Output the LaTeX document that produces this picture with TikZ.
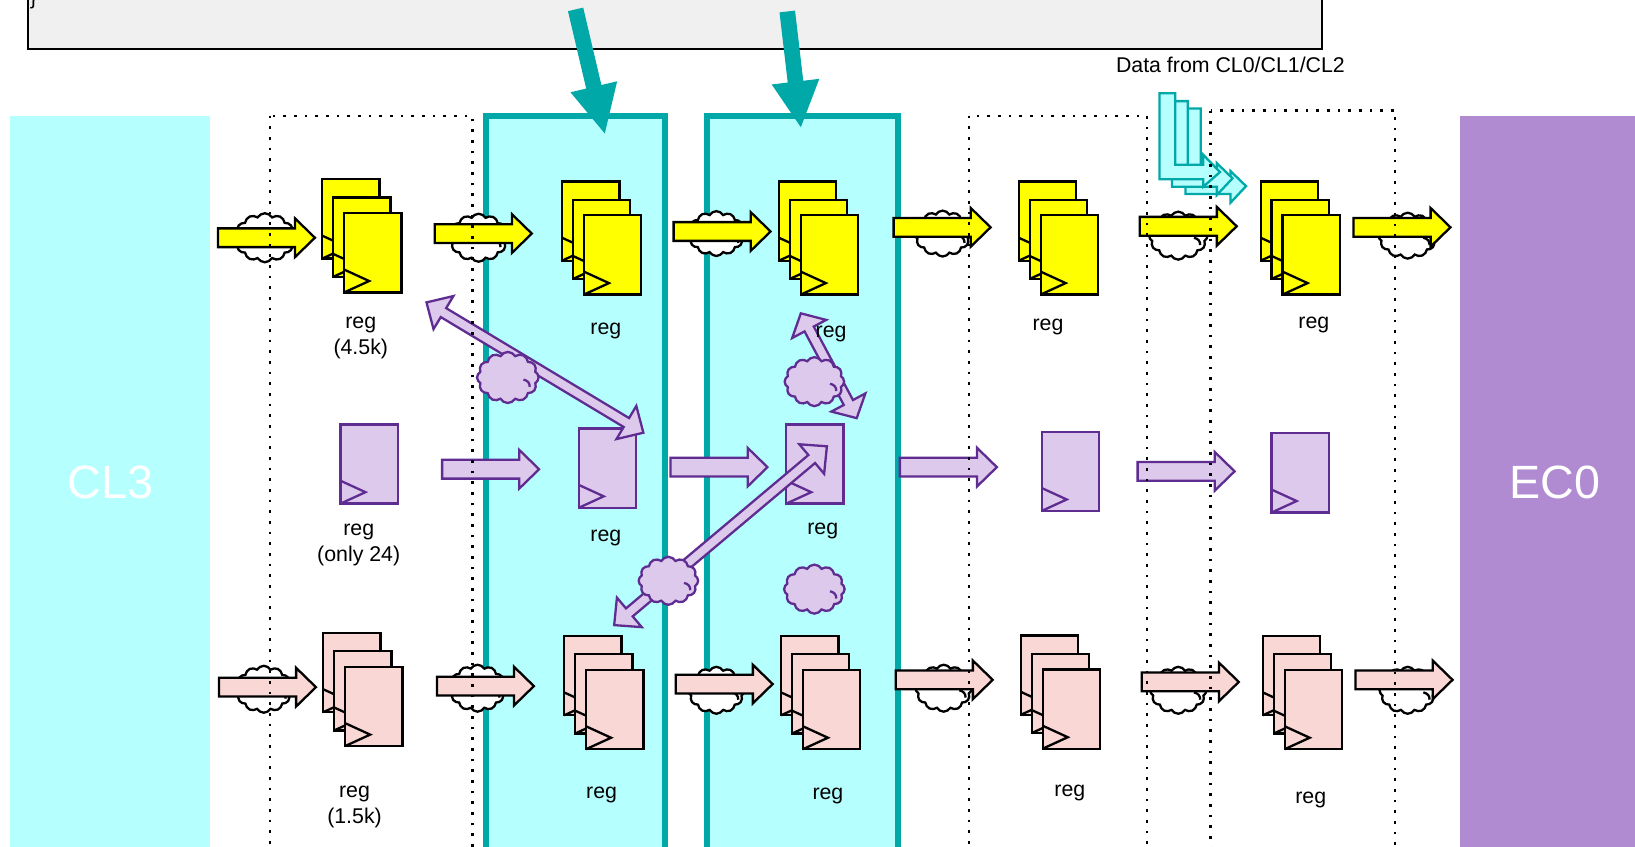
\documentclass[tikz,border=0pt]{standalone}
\usepackage{fontspec}
\setmainfont{Liberation Sans}
\usetikzlibrary{calc,shapes.symbols}
\definecolor{cyanfill}{HTML}{B5FFFF}
\definecolor{tealline}{HTML}{00A8A8}
\definecolor{purplefill}{HTML}{B08BD2}
\definecolor{lav}{HTML}{DDC9EC}
\definecolor{lavline}{HTML}{5F2D91}
\definecolor{pinkfill}{HTML}{F8D7D5}
\definecolor{yel}{RGB}{255,255,0}
\def\u{0.782pt}
\tikzset{
  yreg/.style={draw=black,fill=yel,line width=2.2*\u,line join=miter},
  preg/.style={draw=black,fill=pinkfill,line width=2.2*\u,line join=miter},
  lreg/.style={draw=lavline,fill=lav,line width=2.2*\u,line join=miter},
  tarrow/.style={draw=tealline,fill=cyanfill,line width=2.2*\u,line join=miter},
  bigarrow/.style={draw=none,fill=tealline},
  regbox/.style={shape=rectangle,outer sep=0pt,inner sep=0pt,minimum width=55*\u,minimum height=76*\u,anchor=north west},
  cloudy/.style={shape=cloud,cloud puffs=12,cloud puff arc=120,aspect=1.25,inner sep=0pt,outer sep=0pt},
  wcloud/.style={draw=black,fill=white,line width=2.2*\u},
  lcloud/.style={draw=lavline,fill=lav,line width=2.2*\u},
  dotbox/.style={draw=black,line width=2.2*\u,dash pattern=on 2pt off 6pt},
  stage/.style={draw=tealline,fill=cyanfill,line width=6*\u},
  lbl/.style={align=center,text=black,font=\fontsize{16}{19.5}\selectfont,inner sep=0pt},
  big/.style={text=white,font=\fontsize{35}{40}\selectfont,inner sep=0pt}
}
\newcommand{\onereg}[4]{%
  \node[regbox,#4] (#1) at (#2,#3) {};
  \draw[#4,fill=none] ($(#1.south west)+(0,-22)$) -- ($(#1.south west)+(24,-11)$) -- (#1.south west);
}
\newcommand{\regstack}[4]{%
  \onereg{#1a}{#2}{#3}{#4}
  \onereg{#1b}{#2+10.5}{#3+17.5}{#4}
  \onereg{#1c}{#2+21}{#3+32.5}{#4}
}
\newcommand{\cld}[6]{%
  \node[cloudy,#6,minimum width=#4*\u,minimum height=#5*\u] (#1) at (#2,#3) {};
  \draw[#6,fill=none] ($(#1)+(15,2)$) .. controls ($(#1)+(19,3)$) and ($(#1)+(21,5)$) .. ($(#1)+(21,9)$);
}
\newcommand{\blockarrow}[8]{%
  \coordinate (A) at (#1,#2);
  \coordinate (B) at (#3,#4);
  \coordinate (H) at ($(B)!#7*\u!(A)$);
  \path[#8] ($(A)!#5*\u!90:(B)$) -- ($(H)!#5*\u!90:(B)$) -- ($(H)!#6*\u!90:(B)$) -- (B)
    -- ($(H)!#6*\u!-90:(B)$) -- ($(H)!#5*\u!-90:(B)$) -- ($(A)!#5*\u!-90:(B)$) -- cycle;
}
\newcommand{\doublearrow}[8]{%
  \coordinate (A) at (#1,#2);
  \coordinate (B) at (#3,#4);
  \coordinate (H) at ($(B)!#7*\u!(A)$);
  \coordinate (G) at ($(A)!#7*\u!(B)$);
  \path[#8] (A) -- ($(G)!#6*\u!90:(B)$) -- ($(G)!#5*\u!90:(B)$) -- ($(H)!#5*\u!90:(B)$) -- ($(H)!#6*\u!90:(B)$) -- (B)
    -- ($(H)!#6*\u!-90:(B)$) -- ($(H)!#5*\u!-90:(B)$) -- ($(G)!#5*\u!-90:(B)$) -- ($(G)!#6*\u!-90:(B)$) -- cycle;
}
\begin{document}
\begin{tikzpicture}[x=0.782pt,y=-0.782pt]
\useasboundingbox (0,0) rectangle (1568,812);
\clip (0,0) rectangle (1568,812);
\fill[white] (0,0) rectangle (1568,812);
% top box
\draw[draw=black,fill=black!6,line width=2.2*\u] (27,-10) rectangle (1268,47);
\node[lbl,anchor=base] (brace) at (32,4) {\}};
% side bands
\fill[cyanfill] (10,111) rectangle (201,830);
\fill[purplefill] (1400,111) rectangle (1568,830);
\node[big] (cl3) at (106,463) {CL3};
\node[big] (ec0) at (1491,463) {EC0};
% stages
\draw[stage] (466,111) rectangle (638,830);
\draw[stage] (678,111) rectangle (861,830);
% registers
\regstack{y1}{309}{172}{yreg}
\regstack{y2}{539}{174}{yreg}
\regstack{y3}{747}{174}{yreg}
\regstack{y4}{977}{174}{yreg}
\regstack{y5}{1209}{174}{yreg}
\regstack{p1}{310}{607}{preg}
\regstack{p2}{541}{610}{preg}
\regstack{p3}{749}{610}{preg}
\regstack{p4}{979}{609.5}{preg}
\regstack{p5}{1211}{610}{preg}
\onereg{l1}{326.5}{407}{lreg}
\onereg{l2}{555}{411}{lreg}
\onereg{l3}{754}{407}{lreg}
\onereg{l4}{999}{414}{lreg}
\onereg{l5}{1219.5}{415.5}{lreg}
% clouds below data arrows
\cld{cy1}{254}{228}{58}{47}{wcloud}
\cld{cy2}{459}{228}{56}{46}{wcloud}
\cld{cy3}{687}{224}{54}{43}{wcloud}
\cld{cy4}{904}{224}{54}{44}{wcloud}
\cld{cy5}{1130}{226}{56}{46}{wcloud}
\cld{cy6}{1350}{226}{56}{44}{wcloud}
\cld{cp1}{253}{661}{54}{45}{wcloud}
\cld{cp2}{458}{660}{54}{45}{wcloud}
\cld{cp3}{687}{662}{54}{45}{wcloud}
\cld{cp4}{905}{660}{54}{45}{wcloud}
\cld{cp5}{1130}{662}{54}{45}{wcloud}
\cld{cp6}{1350}{662}{54}{45}{wcloud}
% data arrows
\blockarrow{209}{228}{302}{228}{9}{18.5}{19}{yreg}
\blockarrow{417}{224}{510}{224}{9}{18.5}{19}{yreg}
\blockarrow{646}{222}{739}{222}{9}{18.5}{19}{yreg}
\blockarrow{857}{218}{950}{218}{9}{18.5}{19}{yreg}
\blockarrow{1093}{217}{1186}{217}{9}{18.5}{19}{yreg}
\blockarrow{1298}{218}{1391}{218}{9}{18.5}{19}{yreg}
\blockarrow{210}{659}{303}{659}{9}{18.5}{19}{preg}
\blockarrow{419}{658}{512}{658}{9}{18.5}{19}{preg}
\blockarrow{648}{656}{741}{656}{9}{18.5}{19}{preg}
\blockarrow{859}{652}{952}{652}{9}{18.5}{19}{preg}
\blockarrow{1095}{654}{1188}{654}{9}{18.5}{19}{preg}
\blockarrow{1300}{652}{1393}{652}{9}{18.5}{19}{preg}
\blockarrow{424}{450}{517}{450}{9}{18.5}{19}{lreg}
\blockarrow{643}{448}{736}{448}{9}{18.5}{19}{lreg}
\blockarrow{863}{448}{956}{448}{9}{18.5}{19}{lreg}
\blockarrow{1091}{452}{1184}{452}{9}{18.5}{19}{lreg}
% diagonal arrows and their clouds
\doublearrow{409}{290}{617}{415}{5}{18.5}{19}{lreg}
\doublearrow{768}{300.5}{821.6}{401}{5}{18.5}{17}{lreg}
\doublearrow{589}{599.5}{793}{428}{5}{18.5}{19}{lreg}
\cld{cl1}{487}{362}{59}{49}{lcloud}
\cld{cl2}{781}{366}{57}{47}{lcloud}
\cld{cl3b}{641}{557}{57}{46}{lcloud}
\cld{cl4}{781}{565}{58}{47}{lcloud}
% incoming data from CL0/CL1/CL2
\draw[tarrow] (1137,104) -- (1151.5,104) -- (1151.5,172) -- (1180,172) -- (1180,164) -- (1195,178.5) -- (1180,194.5) -- (1180,186) -- (1137,186) -- cycle;
\draw[tarrow] (1124,97) -- (1139,97) -- (1139,165) -- (1167,165) -- (1167,156.5) -- (1182,171) -- (1167,187) -- (1167,179) -- (1124,179) -- cycle;
\draw[tarrow] (1112,89.5) -- (1127,89.5) -- (1127,158) -- (1154,158) -- (1154,148.5) -- (1170,165) -- (1154,179) -- (1154,172) -- (1112,172) -- cycle;
% big teal arrows
\blockarrow{552}{9}{580}{128}{7.5}{23}{46}{bigarrow}
\blockarrow{755}{11}{768}{122}{7.5}{23}{44}{bigarrow}
% dotted groups
\draw[dotbox] (259,111) rectangle (453,830);
\draw[dotbox] (929,111) rectangle (1100,830);
\draw[dotbox] (1161,106) rectangle (1338,830);
% labels
\node[lbl] (t0) at (1180,62) {Data from CL0/CL1/CL2};
\node[lbl] (t1) at (346,324) {reg\\(4.5k)};
\node[lbl] (t2) at (581,317) {reg};
\node[lbl] (t3) at (797,320) {reg};
\node[lbl] (t4) at (1005,314) {reg};
\node[lbl] (t5) at (1260,312) {reg};
\node[lbl] (t6) at (344,523) {reg\\(only 24)};
\node[lbl] (t7) at (581,516) {reg};
\node[lbl] (t8) at (789,509) {reg};
\node[lbl] (t9) at (340,774) {reg\\(1.5k)};
\node[lbl] (t10) at (577,762) {reg};
\node[lbl] (t11) at (794,763) {reg};
\node[lbl] (t12) at (1026,760) {reg};
\node[lbl] (t13) at (1257,767) {reg};
\end{tikzpicture}
\end{document}
